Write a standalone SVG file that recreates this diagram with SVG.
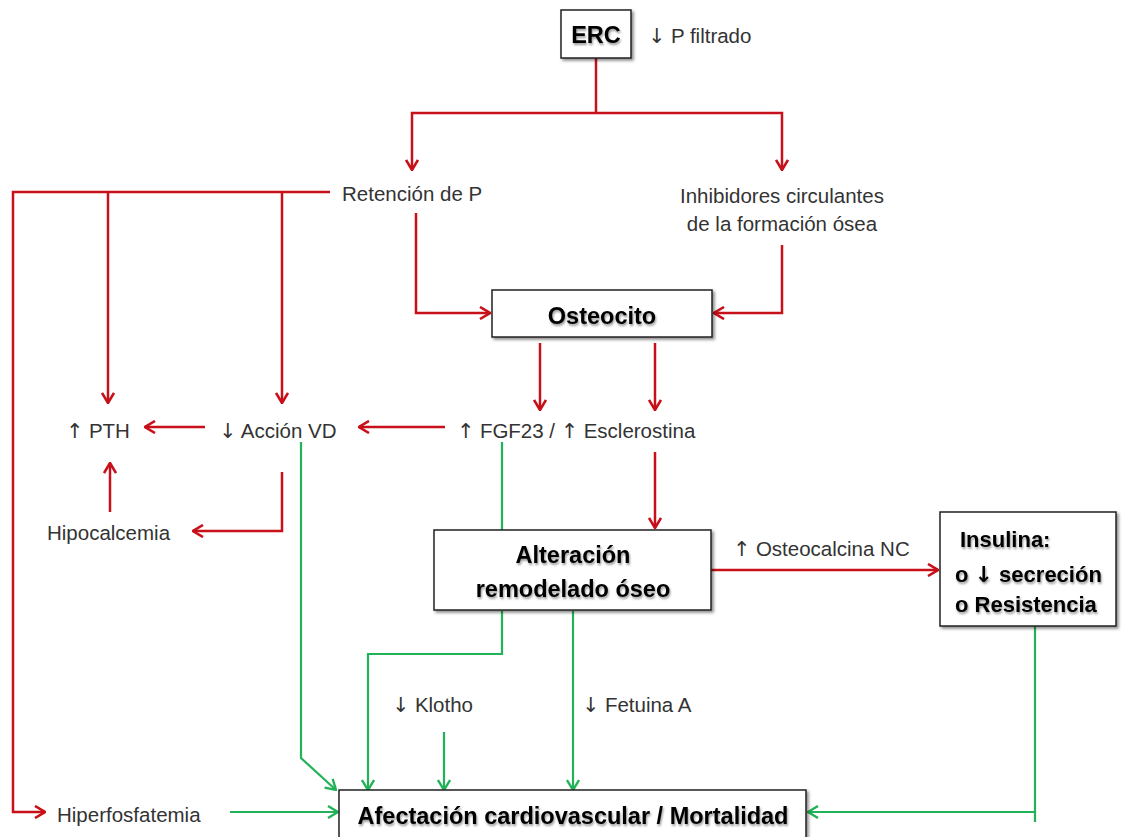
<svg xmlns="http://www.w3.org/2000/svg" width="1122" height="837" viewBox="0 0 1122 837">
<defs>
<style>
.t{font-family:"Liberation Sans","DejaVu Sans",sans-serif;font-size:20.5px;fill:#333}
.b{font-family:"Liberation Sans","DejaVu Sans",sans-serif;font-size:23.5px;font-weight:bold;fill:#000;filter:url(#ts)}
.bi{font-size:22px}
.ar{font-family:"DejaVu Sans",sans-serif;font-weight:normal}
.box{fill:#fff;stroke:#222;stroke-width:1.5;filter:url(#sh)}
.r{fill:none;stroke:#C8101A;stroke-width:2.5}
.g{fill:none;stroke:#22B358;stroke-width:2.2}
.ra{marker-end:url(#mr)}
.ga{marker-end:url(#mg)}
</style>
<filter id="sh" x="-10%" y="-20%" width="130%" height="150%"><feDropShadow dx="2" dy="2" stdDeviation="1.8" flood-color="#000" flood-opacity="0.45"/></filter>
<filter id="ts" x="-10%" y="-30%" width="120%" height="170%"><feDropShadow dx="1" dy="2" stdDeviation="1.2" flood-color="#000" flood-opacity="0.4"/></filter>
<marker id="mr" viewBox="0 0 12 14" refX="11" refY="7" markerWidth="12" markerHeight="14" markerUnits="userSpaceOnUse" orient="auto"><path d="M1,1 L11,7 L1,13" fill="none" stroke="#C8101A" stroke-width="2.6"/></marker>
<marker id="mg" viewBox="0 0 12 14" refX="11" refY="7" markerWidth="12" markerHeight="14" markerUnits="userSpaceOnUse" orient="auto"><path d="M1,1 L11,7 L1,13" fill="none" stroke="#22B358" stroke-width="2.4"/></marker>
</defs>
<rect width="1122" height="837" fill="#fff"/>
<g id="connectors">
<path class="r" d="M596,58 V113"/>
<path class="r ra" d="M596,113 H412 V170"/>
<path class="r ra" d="M596,113 H782 V170"/>
<path class="r ra" d="M330,192 H13 V812 H45"/>
<path class="r ra" d="M108,192 V403"/>
<path class="r ra" d="M282,192 V403"/>
<path class="r ra" d="M416,213 V313 H490"/>
<path class="r ra" d="M782,245 V313 H714"/>
<path class="r ra" d="M540,343 V410"/>
<path class="r ra" d="M655,343 V410"/>
<path class="r ra" d="M445,427 H359"/>
<path class="r ra" d="M205,427 H145"/>
<path class="r ra" d="M110,512 V463"/>
<path class="r ra" d="M282,472 V531 H193"/>
<path class="r ra" d="M655,452 V528"/>
<path class="r ra" d="M711,570 H938"/>
<path class="g ga" d="M301,442 V758 L336,790"/>
<path class="g" d="M502,442 V530"/>
<path class="g ga" d="M502,611 V654 H368 V790"/>
<path class="g ga" d="M573,611 V790"/>
<path class="g ga" d="M444,732 V790"/>
<path class="g ga" d="M230,812 H338"/>
<path class="g" d="M1035,626 V822"/>
<path class="g ga" d="M1035,812 H808"/>
</g>
<g id="erc">
<rect class="box" x="561" y="10" width="70" height="48"/>
<text class="b" x="596" y="43" text-anchor="middle">ERC</text>
</g>
<g id="p-filtrado"><text class="t" x="648" y="43"><tspan class="ar">↓</tspan> P filtrado</text></g>
<g id="retencion"><text class="t" x="342" y="201">Retención de P</text></g>
<g id="inhibidores">
<text class="t" x="782" y="203" text-anchor="middle">Inhibidores circulantes</text>
<text class="t" x="782" y="231" text-anchor="middle">de la formación ósea</text>
</g>
<g id="osteocito">
<rect class="box" x="492" y="290" width="220" height="47"/>
<text class="b" x="602" y="324" text-anchor="middle">Osteocito</text>
</g>
<g id="fgf23"><text class="t" x="457" y="438"><tspan class="ar">↑</tspan> FGF23 / <tspan class="ar">↑</tspan> Esclerostina</text></g>
<g id="accion-vd"><text class="t" x="219" y="438"><tspan class="ar">↓</tspan> Acción VD</text></g>
<g id="pth"><text class="t" x="66" y="438"><tspan class="ar">↑</tspan> PTH</text></g>
<g id="hipocalcemia"><text class="t" x="47" y="540">Hipocalcemia</text></g>
<g id="alteracion">
<rect class="box" x="434" y="530" width="277" height="80"/>
<text class="b" x="573" y="563" text-anchor="middle">Alteración</text>
<text class="b" x="573" y="597" text-anchor="middle">remodelado óseo</text>
</g>
<g id="osteocalcina"><text class="t" x="733" y="556"><tspan class="ar">↑</tspan> Osteocalcina NC</text></g>
<g id="insulina">
<rect class="box" x="940" y="512" width="176" height="114"/>
<text class="b bi" x="960" y="547">Insulina:</text>
<text class="b bi" x="955" y="582">o <tspan style="font-family:'DejaVu Sans',sans-serif">↓</tspan> secreción</text>
<text class="b bi" x="955" y="612">o Resistencia</text>
</g>
<g id="klotho"><text class="t" x="392" y="712"><tspan class="ar">↓</tspan> Klotho</text></g>
<g id="fetuina"><text class="t" x="582" y="712"><tspan class="ar">↓</tspan> Fetuina A</text></g>
<g id="hiperfosfatemia"><text class="t" x="57" y="822">Hiperfosfatemia</text></g>
<g id="afectacion">
<rect class="box" x="339" y="790" width="467" height="52"/>
<text class="b" x="573" y="824" text-anchor="middle">Afectación cardiovascular / Mortalidad</text>
</g>
</svg>
